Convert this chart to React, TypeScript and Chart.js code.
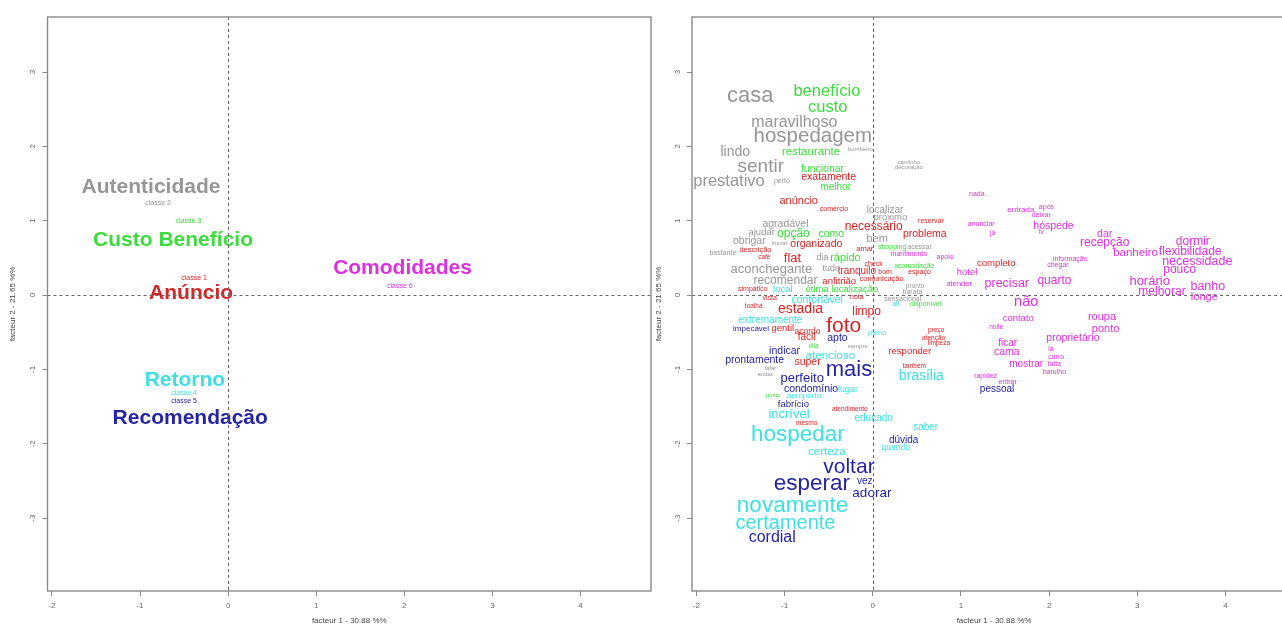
import React, { useEffect, useRef } from "react";
import { Chart, registerables } from "chart.js";

Chart.register(...registerables);

// word, facteur 1, facteur 2, chi2
type Word = [string, number, number, number];

const X_TICKS = [-2, -1, 0, 1, 2, 3, 4];
const Y_TICKS = [-3, -2, -1, 0, 1, 2, 3];
const X_MIN = -2.05;
const X_MAX = 4.8;
const Y_MIN = -3.98;
const Y_MAX = 3.74;
const X_TITLE = "facteur 1 - 30.88 %%";
const Y_TITLE = "facteur 2 - 21.65 %%";

// ----- left panel: classes -----
const classNames = ["Anúncio", "Autenticidade", "Custo Benefício", "Retorno", "Recomendação", "Comodidades"];
const classTags = ["classe 1", "classe 2", "classe 3", "classe 4", "classe 5", "classe 6"];
const classNameX = [-0.42, -0.875, -0.625, -0.49, -0.43, 1.98];
const classNameY = [0.03, 1.446, 0.74, -1.15, -1.65, 0.365];
const classTagX = [-0.386, -0.795, -0.45, -0.5, -0.5, 1.95];
const classTagY = [0.23, 1.24, 1.0, -1.32, -1.43, 0.12];

// ----- right panel: words per class -----
const wordsClasse1: Word[] = [
  ["exatamente", -0.5, 1.58, 11],
  ["anúncio", -0.84, 1.27, 12],
  ["comércio", -0.44, 1.16, 4],
  ["reservar", 0.66, 1.0, 4],
  ["necessário", 0.01, 0.92, 14],
  ["problema", 0.59, 0.82, 11],
  ["organizado", -0.64, 0.68, 11],
  ["amar", -0.09, 0.62, 5],
  ["descrição", -1.33, 0.61, 5],
  ["café", -1.23, 0.51, 3],
  ["flat", -0.91, 0.49, 16],
  ["tranquilo", -0.18, 0.32, 10],
  ["anfitrião", -0.38, 0.19, 9],
  ["check", 0.01, 0.42, 4],
  ["bom", 0.14, 0.31, 4],
  ["espaço", 0.53, 0.31, 4],
  ["comunicação", 0.1, 0.22, 5],
  ["completo", 1.4, 0.43, 9],
  ["simpático", -1.36, 0.08, 4],
  ["vista", -1.17, -0.04, 4],
  ["nota", -0.18, -0.03, 4],
  ["estadia", -0.82, -0.19, 18],
  ["toalha", -1.35, -0.15, 3],
  ["limpo", -0.07, -0.22, 14],
  ["gentil", -1.02, -0.45, 9],
  ["acordo", -0.74, -0.49, 7],
  ["foto", -0.33, -0.42, 32],
  ["fácil", -0.75, -0.57, 10],
  ["super", -0.74, -0.9, 11],
  ["atendimento", -0.26, -1.53, 3],
  ["mesmo", -0.75, -1.72, 3],
  ["responder", 0.42, -0.76, 9],
  ["preço", 0.72, -0.47, 3],
  ["atenção", 0.69, -0.58, 3],
  ["limpeza", 0.75, -0.65, 3],
  ["também", 0.47, -0.96, 3],
];

const wordsClasse2: Word[] = [
  ["casa", -1.39, 2.68, 34],
  ["maravilhoso", -0.89, 2.32, 22],
  ["hospedagem", -0.68, 2.13, 31],
  ["lindo", -1.56, 1.92, 18],
  ["sentir", -1.27, 1.73, 28],
  ["prestativo", -1.63, 1.53, 23],
  ["perto", -1.03, 1.53, 4],
  ["bombeiro", -0.14, 1.96, 2],
  ["cantinho", 0.41, 1.78, 2],
  ["decoração", 0.41, 1.72, 2],
  ["localizar", 0.14, 1.14, 10],
  ["próximo", 0.2, 1.04, 9],
  ["bem", 0.05, 0.76, 12],
  ["agradável", -0.99, 0.96, 11],
  ["ajudar", -1.26, 0.85, 9],
  ["obrigar", -1.4, 0.72, 11],
  ["inicial", -1.06, 0.7, 2],
  ["bastante", -1.7, 0.57, 4],
  ["dia", -0.57, 0.51, 8],
  ["aconchegante", -1.15, 0.35, 16],
  ["tudo", -0.47, 0.36, 8],
  ["recomendar", -0.99, 0.19, 14],
  ["pronto", 0.48, 0.12, 3],
  ["barata", 0.45, 0.04, 4],
  ["sensacional", 0.34, -0.05, 4],
  ["sempre", -0.17, -0.69, 2],
  ["falar", -1.16, -0.99, 2],
  ["andar", -1.22, -1.07, 2],
  ["acessar", 0.53, 0.65, 4],
];

const wordsClasse3: Word[] = [
  ["benefício", -0.52, 2.74, 23],
  ["custo", -0.51, 2.53, 23],
  ["restaurante", -0.7, 1.92, 13],
  ["funcionar", -0.57, 1.7, 11],
  ["melhor", -0.42, 1.45, 10],
  ["opção", -0.9, 0.82, 14],
  ["como", -0.47, 0.82, 11],
  ["rápido", -0.31, 0.5, 12],
  ["ótima localização", -0.35, 0.08, 9],
  ["shopping", 0.22, 0.65, 4],
  ["acomodação", 0.47, 0.39, 4],
  ["disponível", 0.6, -0.12, 4],
  ["vila", -0.67, -0.69, 3],
  ["gosto", -1.13, -1.35, 2],
];

const wordsClasse4: Word[] = [
  ["local", -1.02, 0.08, 9],
  ["confortável", -0.63, -0.07, 11],
  ["extremamente", -1.16, -0.34, 10],
  ["atencioso", -0.48, -0.82, 13],
  ["lugar", -0.28, -1.27, 8],
  ["aeroporto", -0.78, -1.36, 6],
  ["incrível", -0.95, -1.6, 16],
  ["educado", 0.01, -1.65, 10],
  ["hospedar", -0.85, -1.88, 35],
  ["certeza", -0.52, -2.11, 13],
  ["novamente", -0.91, -2.84, 35],
  ["certamente", -0.99, -3.07, 30],
  ["brasília", 0.55, -1.09, 18],
  ["pleno", 0.05, -0.51, 5],
  ["saber", 0.6, -1.78, 10],
  ["quando", 0.26, -2.05, 7],
  ["ali", 0.26, -0.12, 4],
];

const wordsClasse5: Word[] = [
  ["impecável", -1.38, -0.45, 6],
  ["apto", -0.4, -0.58, 11],
  ["indicar", -1.0, -0.76, 11],
  ["prontamente", -1.34, -0.88, 11],
  ["mais", -0.27, -1.01, 34],
  ["perfeito", -0.8, -1.12, 16],
  ["condomínio", -0.7, -1.26, 11],
  ["fabrício", -0.9, -1.47, 9],
  ["voltar", -0.27, -2.32, 32],
  ["esperar", -0.69, -2.54, 35],
  ["vez", -0.09, -2.5, 10],
  ["adorar", -0.01, -2.66, 17],
  ["cordial", -1.14, -3.26, 22],
  ["dúvida", 0.35, -1.95, 10],
  ["pessoal", 1.41, -1.27, 10],
];

const wordsClasse6: Word[] = [
  ["nada", 1.18, 1.36, 4],
  ["anunciar", 1.23, 0.95, 4],
  ["já", 1.36, 0.84, 4],
  ["mantimento", 0.41, 0.55, 4],
  ["apoio", 0.82, 0.51, 4],
  ["hotel", 1.07, 0.31, 9],
  ["atender", 0.98, 0.15, 5],
  ["precisar", 1.52, 0.15, 15],
  ["entrada", 1.68, 1.15, 6],
  ["após", 1.97, 1.18, 4],
  ["deixar", 1.91, 1.07, 4],
  ["hóspede", 2.05, 0.93, 11],
  ["tv", 1.91, 0.84, 3],
  ["dar", 2.63, 0.82, 11],
  ["recepção", 2.63, 0.7, 14],
  ["dormir", 3.63, 0.72, 14],
  ["banheiro", 2.98, 0.57, 13],
  ["flexibilidade", 3.6, 0.58, 14],
  ["informação", 2.24, 0.49, 4],
  ["chegar", 2.1, 0.41, 4],
  ["necessidade", 3.68, 0.45, 15],
  ["pouco", 3.48, 0.34, 14],
  ["quarto", 2.06, 0.2, 14],
  ["horário", 3.14, 0.18, 16],
  ["banho", 3.8, 0.11, 15],
  ["melhorar", 3.28, 0.05, 14],
  ["longe", 3.76, -0.03, 12],
  ["não", 1.74, -0.09, 19],
  ["contato", 1.65, -0.32, 9],
  ["noite", 1.4, -0.43, 3],
  ["ficar", 1.53, -0.65, 10],
  ["cama", 1.52, -0.77, 11],
  ["mostrar", 1.74, -0.93, 10],
  ["rapidez", 1.28, -1.09, 4],
  ["entrar", 1.53, -1.17, 4],
  ["roupa", 2.6, -0.3, 12],
  ["ponto", 2.64, -0.45, 12],
  ["proprietário", 2.27, -0.58, 11],
  ["lá", 2.02, -0.73, 4],
  ["carro", 2.08, -0.84, 4],
  ["falta", 2.06, -0.93, 4],
  ["barulho", 2.06, -1.03, 4],
];

// ----- styles -----
const FONT = '"Liberation Sans", Arial, Helvetica, sans-serif';
const CLASS_COLORS = ["#d42626", "#969696", "#3cdc3c", "#3fe0e0", "#2424a4", "#dd30dd"];
const WORD_SETS = [wordsClasse1, wordsClasse2, wordsClasse3, wordsClasse4, wordsClasse5, wordsClasse6];
const chi2ToPx = (c: number) => 5 + c / 2;

const textPlugin = {
  id: "textLabels",
  afterDatasetsDraw(chart: any) {
    const ctx = chart.ctx;
    ctx.save();
    ctx.textAlign = "center";
    ctx.textBaseline = "middle";
    chart.data.datasets.forEach((ds: any, i: number) => {
      const meta = chart.getDatasetMeta(i);
      ds.texts.forEach((t: string, j: number) => {
        const el = meta.data[j];
        if (!el) return;
        ctx.font = `${ds.weights[j]} ${ds.fontSizes[j]}px ${FONT}`;
        ctx.fillStyle = ds.textColor;
        ctx.fillText(t, el.x, el.y);
      });
    });
    ctx.restore();
  },
  afterDraw(chart: any) {
    const { ctx, chartArea } = chart;
    const xs = chart.scales.x;
    const ys = chart.scales.y;
    ctx.save();
    ctx.strokeStyle = "#666";
    ctx.lineWidth = 1;
    ctx.setLineDash([3, 3]);
    const x0 = Math.round(xs.getPixelForValue(0)) + 0.5;
    const y0 = Math.round(ys.getPixelForValue(0)) + 0.5;
    ctx.beginPath();
    ctx.moveTo(x0, chartArea.top);
    ctx.lineTo(x0, chartArea.bottom);
    ctx.moveTo(chartArea.left, y0);
    ctx.lineTo(chartArea.right, y0);
    ctx.stroke();
    ctx.setLineDash([]);
    ctx.strokeStyle = "#8a8a8a";
    ctx.lineWidth = 1.4;
    ctx.strokeRect(chartArea.left, chartArea.top, chartArea.right - chartArea.left, chartArea.bottom - chartArea.top);
    ctx.restore();
  },
};

function buildOptions(yWidth: number, rightPad: number) {
  return {
    animation: false,
    responsive: false,
    maintainAspectRatio: false,
    layout: { padding: { left: 0, right: rightPad, top: 17, bottom: 0 } },
    plugins: { legend: { display: false }, tooltip: { enabled: false } },
    events: [],
    scales: {
      x: {
        type: "linear",
        min: X_MIN,
        max: X_MAX,
        afterBuildTicks: (s: any) => {
          s.ticks = X_TICKS.map((v) => ({ value: v }));
        },
        afterFit: (s: any) => {
          s.height = 39;
        },
        ticks: { font: { size: 8, family: FONT }, color: "#666", padding: 5, maxRotation: 0, autoSkip: false },
        grid: { drawOnChartArea: false, drawTicks: true, tickLength: 5, color: "#888", lineWidth: 1 },
        border: { display: false },
        title: { display: true, text: X_TITLE, font: { size: 8, family: FONT }, color: "#444", padding: { top: 0, bottom: 4 } },
      },
      y: {
        type: "linear",
        min: Y_MIN,
        max: Y_MAX,
        afterBuildTicks: (s: any) => {
          s.ticks = Y_TICKS.map((v) => ({ value: v }));
        },
        afterFit: (s: any) => {
          s.width = yWidth;
        },
        ticks: {
          font: { size: 8, family: FONT },
          color: "#666",
          padding: 6,
          minRotation: 90,
          maxRotation: 90,
          crossAlign: "center",
          autoSkip: false,
        },
        grid: { drawOnChartArea: false, drawTicks: true, tickLength: 5, color: "#888", lineWidth: 1 },
        border: { display: false },
        title: { display: true, text: Y_TITLE, font: { size: 8, family: FONT }, color: "#444", padding: { top: 8, bottom: 0 } },
      },
    },
  };
}

function leftDatasets() {
  return classNames.map((name, i) => ({
    type: "scatter",
    data: [
      { x: classNameX[i], y: classNameY[i] },
      { x: classTagX[i], y: classTagY[i] },
    ],
    pointRadius: 0,
    texts: [name, classTags[i]],
    fontSizes: [21, 7],
    weights: ["bold", "normal"],
    textColor: CLASS_COLORS[i],
  }));
}

function rightDatasets() {
  return WORD_SETS.map((set, i) => ({
    type: "scatter",
    data: set.map((w) => ({ x: w[1], y: w[2] })),
    pointRadius: 0,
    texts: set.map((w) => w[0]),
    fontSizes: set.map((w) => chi2ToPx(w[3])),
    weights: set.map(() => "normal"),
    textColor: CLASS_COLORS[i],
  }));
}

function Panel(props: { left: number; width: number; yWidth: number; rightPad: number; kind: "classes" | "words" }) {
  const ref = useRef<HTMLCanvasElement | null>(null);
  useEffect(() => {
    if (!ref.current) return;
    const chart = new Chart(ref.current, {
      type: "scatter",
      data: { datasets: (props.kind === "classes" ? leftDatasets() : rightDatasets()) as any },
      options: buildOptions(props.yWidth, props.rightPad) as any,
      plugins: [textPlugin],
    });
    return () => chart.destroy();
  }, []);
  return (
    <canvas
      ref={ref}
      width={props.width}
      height={630}
      style={{ position: "absolute", left: props.left, top: 0, width: props.width, height: 630 }}
    />
  );
}

export default function App() {
  return (
    <div
      style={{
        position: "fixed",
        left: 0,
        top: 0,
        width: 1282,
        height: 630,
        overflow: "hidden",
        background: "#fff",
      }}
    >
      <Panel left={0} width={660} yWidth={47.5} rightPad={9} kind="classes" />
      <Panel left={646} width={660} yWidth={46} rightPad={10} kind="words" />
    </div>
  );
}
